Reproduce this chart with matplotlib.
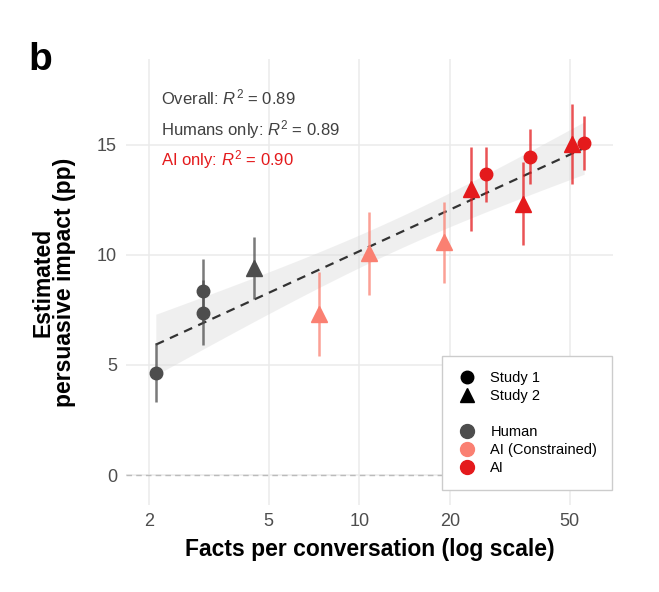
import numpy as np
import matplotlib
matplotlib.use("Agg")
import matplotlib.pyplot as plt
from matplotlib.lines import Line2D

plt.rcParams['font.family'] = ['Liberation Sans', 'DejaVu Sans']
plt.rcParams['mathtext.fontset'] = 'custom'
plt.rcParams['mathtext.it'] = 'Liberation Sans:italic'
plt.rcParams['mathtext.rm'] = 'Liberation Sans'

# ---- data ----
groups = ["Human", "Human", "Human", "Human",
          "AI (Constrained)", "AI (Constrained)", "AI (Constrained)",
          "AI", "AI", "AI", "AI", "AI", "AI"]
studies = ["Study 1", "Study 1", "Study 1", "Study 2",
           "Study 2", "Study 2", "Study 2",
           "Study 2", "Study 2", "Study 2", "Study 1", "Study 1", "Study 1"]
facts = [2.11, 3.02, 3.02, 4.48,
         7.33, 10.74, 19.2,
         23.5, 34.9, 51.1, 26.3, 36.9, 55.9]
impact = [4.65, 7.38, 8.38, 9.4,
          7.31, 10.08, 10.57,
          13.01, 12.33, 15.04, 13.67, 14.46, 15.1]
ci_low = [3.3, 5.9, 6.96, 7.99,
          5.41, 8.2, 8.71,
          11.1, 10.45, 13.21, 12.42, 13.21, 13.86]
ci_high = [6.0, 8.86, 9.8, 10.8,
           9.21, 11.97, 12.42,
           14.92, 14.21, 16.86, 14.92, 15.71, 16.33]
r2_labels = ["Overall: $R^2$ = 0.89", "Humans only: $R^2$ = 0.89", "AI only: $R^2$ = 0.90"]
x_ticks = [2, 5, 10, 20, 50]
x_ticklabels = ["2", "5", "10", "20", "50"]
y_ticks = [0, 5, 10, 15]

colors = {"Human": "#4D4D4D", "AI (Constrained)": "#FA8072", "AI": "#E41A1C"}
markers = {"Study 1": "o", "Study 2": "^"}
msizes = {"Study 1": 9, "Study 2": 11.5}

fig = plt.figure(figsize=(6.59, 5.92), dpi=100)
ax = fig.add_axes([0.1912, 0.147, 0.930 - 0.1912, 0.9003 - 0.147])
ax.set_xscale('log')
ax.set_xlim(1.68, 69.6)
ax.set_ylim(-1.36, 18.9)

ax.set_xticks(x_ticks)
ax.set_xticklabels(x_ticklabels)
ax.set_yticks(y_ticks)
ax.xaxis.set_minor_locator(matplotlib.ticker.NullLocator())
ax.grid(True, color="#EBEBEB", lw=1.1)
ax.set_axisbelow(True)
for s in ax.spines.values():
    s.set_visible(False)
ax.tick_params(axis='both', length=0, labelsize=13, labelcolor="#4D4D4D")
ax.tick_params(axis='x', pad=5.5)
ax.tick_params(axis='y', pad=6.5)

ax.axhline(0, color="#BBBBBB", ls=(0, (4, 3)), lw=1.0, zorder=1)

# regression on log10(x)
lx = np.log10(np.array(facts))
yv = np.array(impact)
n = len(lx)
b1, b0 = np.polyfit(lx, yv, 1)
resid = yv - (b0 + b1 * lx)
s = np.sqrt(np.sum(resid ** 2) / (n - 2))
xbar = lx.mean()
sxx = np.sum((lx - xbar) ** 2)
tq = 2.201  # t(0.975, 11)
gx = np.linspace(lx.min(), lx.max(), 200)
fit = b0 + b1 * gx
se = s * np.sqrt(1 / n + (gx - xbar) ** 2 / sxx)
ax.fill_between(10 ** gx, fit - tq * se, fit + tq * se, color="#D9D9D9", alpha=0.4, lw=0, zorder=2)
ax.plot(10 ** gx, fit, color="#333333", ls=(0, (4, 3)), lw=1.6, zorder=3)

# error bars and points
for g, st, x, y, lo, hi in zip(groups, studies, facts, impact, ci_low, ci_high):
    c = colors[g]
    ax.plot([x, x], [lo, hi], color=c, lw=1.8, alpha=0.75, solid_capstyle='butt', zorder=4)
    ax.plot([x], [y], marker=markers[st], ms=msizes[st], color=c, mec=c, ls='none', zorder=5)

# R2 annotations
ytext = [16.82, 15.45, 14.05]
tcols = ["#404040", "#404040", "#E41A1C"]
for lab, yt, tc in zip(r2_labels, ytext, tcols):
    ax.text(2.19, yt, lab, color=tc, fontsize=12, va='baseline', ha='left', zorder=6)

ax.set_xlabel("Facts per conversation (log scale)", fontsize=16.5, fontweight='bold', labelpad=6)
ax.set_ylabel("Estimated\npersuasive impact (pp)", fontsize=16.5, fontweight='bold',
              labelpad=15, linespacing=0.92)

fig.text(0.0425, 0.882, "b", fontsize=28, fontweight='bold', va='baseline', ha='left')

# legend
handles = [
    Line2D([], [], marker='o', color='black', ls='none', ms=9),
    Line2D([], [], marker='^', color='black', ls='none', ms=10),
    Line2D([], [], ls='none', marker=''),
    Line2D([], [], marker='o', color=colors["Human"], ls='none', ms=10),
    Line2D([], [], marker='o', color=colors["AI (Constrained)"], ls='none', ms=10),
    Line2D([], [], marker='o', color=colors["AI"], ls='none', ms=10),
]
labels = ["Study 1", "Study 2", "", "Human", "AI (Constrained)", "AI"]
leg = ax.legend(handles, labels, loc='lower right', bbox_to_anchor=(0.998, 0.034),
                fontsize=10.5, frameon=True, fancybox=False, edgecolor="#CCCCCC",
                framealpha=1, borderpad=1.0, labelspacing=0.28, handletextpad=0.9,
                handlelength=1.4, borderaxespad=0)
leg.get_frame().set_linewidth(1.0)

fig.savefig("out.png", dpi=100)
